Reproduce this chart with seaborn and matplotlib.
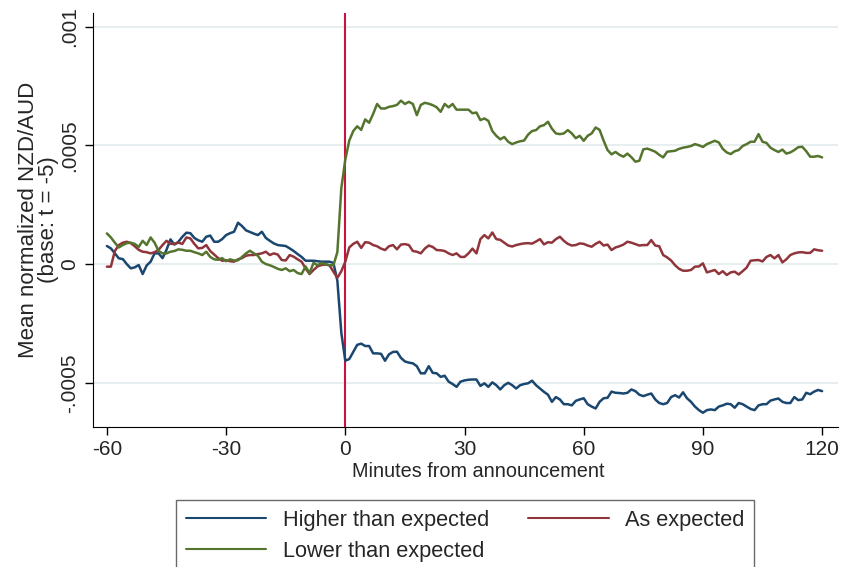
import numpy as np
import pandas as pd
import matplotlib
matplotlib.use("Agg")
import matplotlib.pyplot as plt
from matplotlib.lines import Line2D
import seaborn as sns

# minutes relative to the announcement
minutes = list(range(-60, 121))

# mean normalized NZD/AUD, in units of 1e-4
higher = [
    0.76, 0.66, 0.45, 0.24, 0.21, 0.0, -0.18, -0.14, -0.04, -0.42,       # -60..-51
    -0.06, 0.1, 0.45, 0.45, 0.25, 0.6, 1.04, 0.82, 0.94, 1.15,           # -50..-41
    1.32, 1.3, 1.1, 1.0, 0.94, 1.15, 1.2, 0.94, 0.94, 1.05,              # -40..-31
    1.22, 1.3, 1.36, 1.74, 1.6, 1.42, 1.35, 1.28, 1.22, 1.36,            # -30..-21
    1.1, 0.98, 0.87, 0.8, 0.78, 0.76, 0.66, 0.55, 0.42, 0.3,             # -20..-11
    0.14, 0.14, 0.14, 0.12, 0.1, 0.1, 0.1, 0.05, -0.7, -2.9,             # -10..-1
    -4.07, -4.0, -3.7, -3.4, -3.35, -3.45, -3.45, -3.76, -3.76, -3.78,   # 0..9
    -4.07, -3.8, -3.7, -3.69, -3.95, -4.1, -4.15, -4.18, -4.3, -4.6,
    -4.6, -4.3, -4.58, -4.6, -4.75, -4.7, -4.95, -5.05, -5.17, -4.95,
    -4.9, -4.87, -4.86, -4.86, -5.13, -5.02, -5.17, -4.98, -5.1, -5.28,
    -5.1, -5.0, -5.1, -5.24, -5.1, -5.05, -5.02, -4.91, -5.1, -5.24,
    -5.38, -5.5, -5.8, -5.6, -5.7, -5.9, -5.9, -5.95, -5.76, -5.7,
    -5.65, -5.9, -6.0, -6.08, -5.8, -5.65, -5.63, -5.37, -5.42, -5.43,
    -5.45, -5.42, -5.28, -5.35, -5.5, -5.56, -5.5, -5.45, -5.7, -5.85,
    -5.9, -5.85, -5.6, -5.52, -5.62, -5.4, -5.65, -5.8, -6.0, -6.15,
    -6.26, -6.15, -6.12, -6.15, -6.0, -5.95, -5.88, -5.9, -6.05, -5.85,
    -5.9, -6.0, -6.1, -6.15, -5.95, -5.9, -5.9, -5.75, -5.7, -5.66,
    -5.8, -5.85, -5.85, -5.6, -5.73, -5.7, -5.42, -5.48, -5.37, -5.3,
    -5.35,
]
as_expected = [
    -0.11, -0.11, 0.55, 0.8, 0.9, 0.94, 0.88, 0.75, 0.6, 0.52,
    0.5, 0.45, 0.5, 0.6, 0.8, 0.98, 0.85, 0.85, 0.9, 0.85,
    1.12, 1.08, 0.85, 0.66, 0.68, 0.8, 0.55, 0.4, 0.25, 0.14,
    0.16, 0.12, 0.1, 0.2, 0.25, 0.35, 0.38, 0.38, 0.42, 0.45,
    0.52, 0.38, 0.45, 0.4, 0.17, 0.15, 0.38, 0.31, 0.2, 0.1,
    -0.18, -0.42, -0.25, -0.1, -0.04, -0.02, -0.05, -0.32, -0.58, -0.3,
    0.1, 0.7, 0.85, 0.94, 0.68, 0.92, 0.9, 0.8, 0.75, 0.65,
    0.59, 0.75, 0.8, 0.62, 0.82, 0.84, 0.8, 0.55, 0.52, 0.45,
    0.65, 0.78, 0.72, 0.59, 0.58, 0.55, 0.45, 0.38, 0.45, 0.3,
    0.3, 0.45, 0.65, 0.45, 1.05, 1.22, 1.08, 1.33, 1.05, 1.02,
    0.9, 0.78, 0.74, 0.8, 0.84, 0.87, 0.88, 0.86, 0.95, 1.05,
    0.83, 0.92, 0.9, 1.05, 1.15, 0.98, 0.85, 0.78, 0.8, 0.87,
    0.85, 0.78, 0.73, 0.85, 0.94, 0.78, 0.82, 0.59, 0.7, 0.75,
    0.82, 0.94, 0.9, 0.84, 0.78, 0.8, 0.8, 1.01, 0.78, 0.75,
    0.38, 0.28, 0.15, -0.05, -0.2, -0.28, -0.28, -0.25, -0.11, -0.1,
    0.03, -0.35, -0.3, -0.25, -0.42, -0.3, -0.46, -0.35, -0.32, -0.44,
    -0.3, -0.15, 0.14, 0.16, 0.17, 0.11, 0.3, 0.38, 0.24, 0.38,
    0.07, 0.2, 0.38, 0.45, 0.49, 0.5, 0.47, 0.47, 0.62, 0.58,
    0.56,
]
lower = [
    1.29, 1.12, 0.9, 0.7, 0.8, 0.88, 0.9, 0.85, 0.72, 0.98,
    0.8, 1.12, 0.9, 0.55, 0.45, 0.45, 0.52, 0.55, 0.62, 0.6,
    0.56, 0.56, 0.5, 0.45, 0.38, 0.52, 0.3, 0.2, 0.18, 0.25,
    0.12, 0.2, 0.15, 0.16, 0.3, 0.45, 0.56, 0.45, 0.35, 0.1,
    0.0, -0.05, -0.12, -0.2, -0.25, -0.18, -0.3, -0.25, -0.38, -0.42,
    -0.1, -0.38, 0.05, -0.05, 0.05, 0.0, -0.05, -0.05, 0.5, 3.2,
    4.4, 5.2, 5.6, 5.8, 5.65, 6.09, 5.95, 6.32, 6.74, 6.55,
    6.55, 6.62, 6.65, 6.7, 6.88, 6.74, 6.83, 6.74, 6.27, 6.7,
    6.79, 6.75, 6.69, 6.6, 6.41, 6.74, 6.6, 6.74, 6.5, 6.5,
    6.5, 6.5, 6.35, 6.38, 6.06, 6.13, 6.03, 5.6, 5.4, 5.25,
    5.35, 5.15, 5.05, 5.12, 5.17, 5.2, 5.45, 5.6, 5.64, 5.8,
    5.85, 5.99, 5.7, 5.5, 5.47, 5.5, 5.64, 5.5, 5.3, 5.4,
    5.19, 5.4, 5.5, 5.75, 5.65, 5.2, 4.8, 4.62, 4.72, 4.6,
    4.52, 4.65, 4.5, 4.31, 4.35, 4.83, 4.86, 4.8, 4.73, 4.6,
    4.49, 4.73, 4.75, 4.77, 4.85, 4.9, 4.93, 4.97, 5.05, 5.0,
    4.93, 5.05, 5.12, 5.19, 5.12, 4.85, 4.7, 4.63, 4.75, 4.8,
    4.97, 5.05, 5.15, 5.15, 5.47, 5.15, 5.1, 4.9, 4.8, 4.72,
    4.82, 4.65, 4.7, 4.8, 4.92, 4.94, 4.75, 4.52, 4.52, 4.55,
    4.49,
]

groups = ["Higher than expected", "As expected", "Lower than expected"]
colors = ["#1a476f", "#90353b", "#55752f"]

x_ticks = [-60, -30, 0, 30, 60, 90, 120]
y_ticks = [-0.0005, 0, 0.0005, 0.001]
y_ticklabels = ["-.0005", "0", ".0005", ".001"]

df = pd.DataFrame({
    "minute": minutes * 3,
    "value": np.array(higher + as_expected + lower) * 1e-4,
    "group": np.repeat(groups, len(minutes)),
})

sns.set_style("ticks")
plt.rcParams["font.family"] = ["Liberation Sans", "DejaVu Sans"]
plt.rcParams["axes.unicode_minus"] = False
fs = 15

fig = plt.figure(figsize=(8.42, 5.67), dpi=100)
ax = fig.add_axes([93 / 842, 140 / 567, (838 - 93) / 842, (427 - 13) / 567])

ax.axvline(0, color="#c8143c", lw=1.5, zorder=3)
sns.lineplot(data=df, x="minute", y="value", hue="group", hue_order=groups,
             palette=colors, lw=1.8, ax=ax, legend=False, zorder=4)

ax.set_xlim(-63.5, 124)
ax.set_ylim(-6.86e-4, 10.57e-4)
ax.set_xticks(x_ticks)
ax.set_yticks(y_ticks)
ax.set_yticklabels(y_ticklabels, rotation=90, va="center")
ax.grid(axis="y", color="#e4edef", lw=1.3)
ax.set_axisbelow(True)
sns.despine(ax=ax)
ax.spines[["left", "bottom"]].set_color("black")
ax.tick_params(direction="out", length=6, width=1, labelsize=fs, color="black")
ax.tick_params(axis="y", pad=4)

ax.set_xlabel("Minutes from announcement", fontsize=14.3, labelpad=1)
ax.xaxis.set_label_coords(0.517, -0.085)
ax.set_ylabel("Mean normalized NZD/AUD\n(base: t = -5)", fontsize=16, labelpad=1,
              linespacing=0.95)

# legend order: column-major fill -> Higher / Lower in col 1, As expected in col 2
order = [0, 2, 1]
handles = [Line2D([], [], color=colors[i], lw=1.5) for i in order]
labels = [groups[i] for i in order]
leg = fig.legend(handles, labels, loc="upper center", ncol=2,
                 bbox_to_anchor=(465 / 842, 1 - 500 / 567), borderaxespad=0,
                 fontsize=15.7, frameon=True, fancybox=False, edgecolor="#444444",
                 handlelength=3.7, handletextpad=0.75, columnspacing=1.8,
                 labelspacing=0.45, borderpad=0.45)
leg.get_frame().set_linewidth(1.0)

fig.savefig("out.png", dpi=100)
